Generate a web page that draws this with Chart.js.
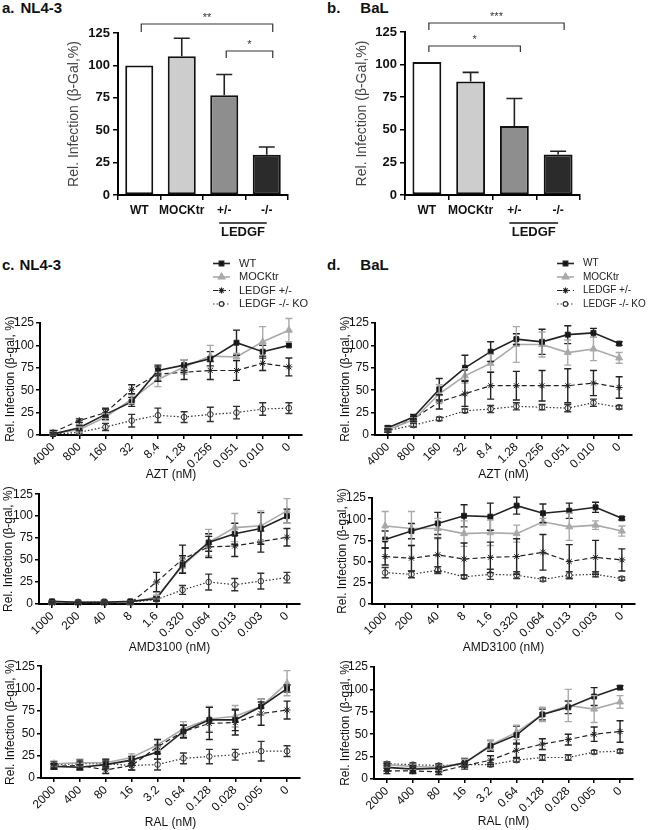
<!DOCTYPE html>
<html>
<head>
<meta charset="utf-8">
<script src="https://cdn.jsdelivr.net/npm/chart.js@4.4.1/dist/chart.umd.min.js"></script>
<style>
  body { margin: 0; background: #fff; width: 650px; height: 830px; position: relative; overflow: hidden;
         font-family: "Liberation Sans", Arial, sans-serif; }
  canvas { position: absolute; }
  .lbl { position: absolute; font-weight: bold; font-size: 15px; color: #111; white-space: nowrap; }
</style>
</head>
<body>
<div class="lbl" style="left:2px;top:-1px">a.<span style="margin-left:6px">NL4-3</span></div>
<div class="lbl" style="left:327px;top:-1px">b.<span style="margin-left:20px">BaL</span></div>
<div class="lbl" style="left:2px;top:256px">c.<span style="margin-left:5px">NL4-3</span></div>
<div class="lbl" style="left:327px;top:256px">d.<span style="margin-left:20px">BaL</span></div>

<canvas id="barNl" width="325" height="250" style="left:0;top:0"></canvas>
<canvas id="barBal" width="325" height="250" style="left:325px;top:0"></canvas>
<canvas id="nlAztC" width="325" height="235" style="left:0;top:250px"></canvas>
<canvas id="nlAmdC" width="325" height="172" style="left:0;top:485px"></canvas>
<canvas id="nlRalC" width="325" height="173" style="left:0;top:657px"></canvas>
<canvas id="balAztC" width="325" height="235" style="left:325px;top:250px"></canvas>
<canvas id="balAmdC" width="325" height="172" style="left:325px;top:485px"></canvas>
<canvas id="balRalC" width="325" height="173" style="left:325px;top:657px"></canvas>

<script>
// ---- data ----
const barGroups = ['WT', 'MOCKtr', '+/-', '-/-'];
const nlBar = [100, 107, 77, 31];
const nlBarSd = [0, 14, 16, 6];
const balBar = [102, 87, 53, 31];
const balBarSd = [0, 7, 21, 2.5];

const seriesNames = ['WT', 'MOCKtr', 'LEDGF +/-', 'LEDGF -/- KO'];
const aztDoses = ['4000', '800', '160', '32', '8.4', '1.28', '0.256', '0.051', '0.010', '0'];
const amdDoses = ['1000', '200', '40', '8', '1.6', '0.320', '0.064', '0.013', '0.003', '0'];
const ralDoses = ['2000', '400', '80', '16', '3.2', '0.64', '0.128', '0.028', '0.005', '0'];

// order of rows: WT, MOCKtr, LEDGF +/-, LEDGF -/- KO
const nlAzt = [
  [1, 8, 23, 37, 72, 78, 85, 103, 93, 100],
  [2, 6, 20, 40, 62, 76, 88, 87, 104, 117],
  [3, 16, 25, 51, 68, 70, 72, 72, 80, 76],
  [1, 3, 9, 16, 22, 20, 23, 25, 29, 30]
];
const nlAztSd = [
  [2, 3, 6, 5, 6, 6, 8, 14, 7, 0],
  [2, 3, 4, 5, 8, 8, 12, 4, 17, 13],
  [2, 2, 5, 5, 8, 8, 10, 11, 8, 10],
  [1, 2, 4, 7, 8, 6, 8, 7, 7, 6]
];
const nlAmd = [
  [3, 2, 2, 3, 6, 45, 70, 80, 86, 100],
  [2, 2, 2, 2, 8, 43, 70, 87, 89, 106],
  [1, 1, 1, 1, 25, 51, 65, 66, 71, 76],
  [2, 2, 3, 2, 5, 16, 25, 22, 26, 30]
];
const nlAmdSd = [
  [1, 1, 1, 1, 2, 10, 10, 12, 18, 8],
  [1, 1, 1, 1, 2, 8, 15, 16, 17, 14],
  [1, 1, 1, 1, 11, 16, 12, 12, 12, 10],
  [1, 1, 1, 1, 2, 5, 9, 7, 9, 6]
];
const nlRal = [
  [13, 12, 15, 20, 29, 52, 65, 65, 80, 100],
  [16, 17, 17, 23, 37, 55, 66, 69, 80, 106],
  [13, 14, 9, 14, 35, 52, 61, 62, 72, 76],
  [15, 16, 16, 14, 15, 22, 24, 26, 30, 30]
];
const nlRalSd = [
  [3, 3, 4, 4, 8, 7, 14, 12, 8, 4],
  [3, 4, 4, 4, 6, 8, 14, 12, 8, 14],
  [3, 4, 4, 5, 8, 7, 18, 14, 13, 10],
  [3, 4, 5, 5, 6, 6, 8, 6, 11, 6]
];
const balAzt = [
  [8, 20, 51, 75, 93, 107, 104, 112, 114, 102],
  [6, 17, 46, 66, 80, 101, 101, 92, 96, 86],
  [5, 18, 37, 46, 55, 55, 55, 55, 58, 53],
  [5, 11, 18, 27, 29, 32, 31, 30, 36, 31]
];
const balAztSd = [
  [2, 3, 12, 14, 11, 6, 14, 10, 5, 2],
  [2, 3, 10, 8, 10, 20, 14, 14, 13, 6],
  [2, 3, 8, 14, 15, 16, 17, 19, 14, 12],
  [2, 2, 2, 2, 4, 4, 3, 4, 4, 2]
];
const balAmd = [
  [76, 86, 95, 104, 103, 116, 107, 110, 114, 101],
  [92, 89, 89, 83, 84, 83, 97, 91, 93, 86],
  [56, 54, 58, 53, 55, 56, 61, 50, 55, 52],
  [37, 35, 40, 32, 35, 34, 29, 34, 35, 30]
];
const balAmdSd = [
  [10, 9, 13, 13, 16, 10, 11, 9, 6, 2],
  [17, 20, 12, 15, 15, 10, 4, 16, 5, 6],
  [10, 15, 20, 19, 18, 21, 21, 20, 20, 13],
  [6, 4, 4, 2, 6, 4, 2, 4, 3, 2]
];
const balRal = [
  [13, 11, 12, 18, 37, 49, 72, 80, 92, 102],
  [16, 14, 13, 18, 38, 52, 72, 82, 78, 86],
  [9, 9, 8, 15, 21, 32, 39, 44, 50, 53],
  [17, 16, 15, 16, 16, 21, 24, 24, 30, 31]
];
const balRalSd = [
  [4, 4, 4, 5, 6, 10, 6, 7, 10, 2],
  [3, 3, 3, 4, 5, 8, 8, 18, 15, 7],
  [3, 3, 3, 4, 5, 8, 6, 6, 8, 12],
  [2, 2, 2, 2, 2, 2, 3, 3, 2, 2]
];

// ---- styles ----
const FONT = '"Liberation Sans", Arial, Helvetica, sans-serif';
Chart.defaults.font.family = FONT;
Chart.defaults.color = '#111';

const seriesStyle = [
  {color: '#222', width: 1.6, dash: [], point: 'rect', radius: 3.5, fill: '#111'},
  {color: '#a9a9a9', width: 1.6, dash: [], point: 'triangle', radius: 4, fill: '#a9a9a9'},
  {color: '#222', width: 1.2, dash: [5, 3], point: 'star', radius: 3.5, fill: '#222'},
  {color: '#333', width: 1.2, dash: [1.5, 2], point: 'circle', radius: 2.8, fill: '#fff'}
];
const barColors = ['#ffffff', '#cdcdcd', '#8e8e8e', '#2b2b2b'];

// error bars read from dataset.sd, placed through the y scale
const errorBars = {
  id: 'errorBars',
  afterDatasetsDraw(chart) {
    const ctx = chart.ctx, y = chart.scales.y;
    chart.data.datasets.forEach((ds, i) => {
      if (!ds.sd) return;
      const meta = chart.getDatasetMeta(i);
      ctx.save();
      ctx.strokeStyle = ds.errColor || '#111';
      ctx.lineWidth = ds.errWidth || 1.4;
      ctx.setLineDash([]);
      meta.data.forEach((el, j) => {
        const s = ds.sd[j];
        if (!s) return;
        const v = ds.data[j];
        const top = y.getPixelForValue(v + s);
        const bot = ds.upOnly ? y.getPixelForValue(v) : y.getPixelForValue(Math.max(v - s, 0));
        const x = el.x, cw = ds.capWidth || 3.5;
        ctx.beginPath();
        ctx.moveTo(x, top); ctx.lineTo(x, bot);
        ctx.moveTo(x - cw, top); ctx.lineTo(x + cw, top);
        if (!ds.upOnly) { ctx.moveTo(x - cw, bot); ctx.lineTo(x + cw, bot); }
        ctx.stroke();
      });
      ctx.restore();
    });
  }
};

// legend with line + marker, drawn at a fixed spot of the canvas
const seriesKey = {
  id: 'seriesKey',
  afterDraw(chart, args, opts) {
    if (!opts || !opts.show) return;
    const ctx = chart.ctx;
    chart.data.datasets.forEach((ds, i) => {
      const st = seriesStyle[i];
      const y = opts.y + i * opts.dy, x = opts.x;
      ctx.save();
      ctx.strokeStyle = st.color; ctx.lineWidth = st.width; ctx.setLineDash(st.dash);
      ctx.beginPath(); ctx.moveTo(x, y); ctx.lineTo(x + 17, y); ctx.stroke();
      ctx.setLineDash([]);
      ctx.fillStyle = st.fill; ctx.strokeStyle = st.color;
      Chart.helpers.drawPoint(ctx, {pointStyle: st.point, radius: st.radius - 0.5, rotation: 0, borderWidth: 1}, x + 8.5, y);
      ctx.fillStyle = '#222';
      ctx.font = opts.size + 'px ' + FONT;
      ctx.textBaseline = 'middle';
      ctx.fillText(ds.label, x + 26, y);
      ctx.restore();
    });
  }
};

// significance brackets and LEDGF group label for the bar panels
const sigBrackets = {
  id: 'sigBrackets',
  afterDraw(chart, args, opts) {
    const ctx = chart.ctx, meta = chart.getDatasetMeta(0);
    ctx.save();
    ctx.strokeStyle = '#333'; ctx.lineWidth = 1.2; ctx.fillStyle = '#333';
    ctx.textAlign = 'center'; ctx.textBaseline = 'bottom';
    ctx.font = '11px ' + FONT;
    opts.brackets.forEach(b => {
      const x1 = meta.data[b.from].x + 2, x2 = meta.data[b.to].x + 6;
      ctx.beginPath();
      ctx.moveTo(x1, b.y + b.drop); ctx.lineTo(x1, b.y); ctx.lineTo(x2, b.y); ctx.lineTo(x2, b.y + b.drop);
      ctx.stroke();
      ctx.fillText(b.text, (x1 + x2) / 2, b.y - 1);
    });
    const xa = meta.data[2].x - 5, xb = meta.data[3].x;
    ctx.strokeStyle = '#111'; ctx.lineWidth = 1.3;
    ctx.beginPath(); ctx.moveTo(xa, opts.groupY); ctx.lineTo(xb, opts.groupY); ctx.stroke();
    ctx.fillStyle = '#111';
    ctx.font = 'bold 13px ' + FONT;
    ctx.textBaseline = 'top';
    ctx.fillText('LEDGF', (xa + xb) / 2, opts.groupY + 3);
    ctx.restore();
  }
};

const axisLine = {color: '#000', width: 2};
const axisGrid = {drawOnChartArea: false, color: '#000', tickLength: 5, lineWidth: 1.5};

function barChart(id, values, sds, box, brackets) {
  return new Chart(document.getElementById(id), {
    type: 'bar',
    data: {
      labels: barGroups,
      datasets: [{
        data: values, sd: sds, upOnly: true, capWidth: 8, errWidth: 1.6, errColor: '#222',
        backgroundColor: barColors, borderColor: '#111', borderWidth: 2, borderSkipped: false,
        barPercentage: 0.66, categoryPercentage: 1
      }]
    },
    plugins: [errorBars, sigBrackets],
    options: {
      responsive: false, animation: false,
      layout: {padding: {left: 0, top: box.top, right: box.right, bottom: 0}},
      plugins: {legend: {display: false}, tooltip: {enabled: false},
                sigBrackets: {brackets: brackets, groupY: 223}},
      scales: {
        x: {afterFit: s => { s.height = box.xh; }, border: axisLine, grid: axisGrid,
            ticks: {autoSkip: false, minRotation: 0, maxRotation: 0,
                    font: {size: 12, weight: 'bold'}, padding: 3, color: '#111'}},
        y: {min: 0, max: 125, afterFit: s => { s.width = box.left; }, border: axisLine, grid: axisGrid,
            ticks: {stepSize: 25, font: {size: 13, weight: 'bold'}, padding: 3, color: '#111'},
            title: {display: true, text: 'Rel. Infection (β-Gal,%)', color: '#444', font: {size: 14},
                    padding: {top: box.yt, bottom: 0}}}
      }
    }
  });
}

function lineChart(id, doses, means, sds, box, axisTitle, key) {
  const datasets = means.map((m, i) => {
    const st = seriesStyle[i];
    return {
      label: seriesNames[i], data: m, sd: sds[i], errColor: st.color,
      borderColor: st.color, borderWidth: st.width, borderDash: st.dash,
      pointStyle: st.point, pointRadius: st.radius, pointBorderWidth: 1,
      pointBackgroundColor: st.fill, pointBorderColor: st.color,
      clip: false, tension: 0, fill: false
    };
  });
  return new Chart(document.getElementById(id), {
    type: 'line',
    data: {labels: doses, datasets: datasets},
    plugins: [errorBars, seriesKey],
    options: {
      responsive: false, animation: false,
      layout: {padding: {left: 0, top: box.top, right: box.right, bottom: 0}},
      plugins: {legend: {display: false}, tooltip: {enabled: false},
                seriesKey: key || {show: false}},
      scales: {
        x: {offset: true, afterFit: s => { s.height = box.xh; },
            border: axisLine, grid: {...axisGrid, tickLength: 4},
            ticks: {autoSkip: false, minRotation: 45, maxRotation: 45, font: {size: 12}, padding: 1, color: '#111'},
            title: {display: true, text: axisTitle, font: {size: 12}, color: '#111',
                    padding: {top: 0, bottom: box.xt}}},
        y: {min: 0, max: 125, afterFit: s => { s.width = box.left; },
            border: axisLine, grid: {...axisGrid, tickLength: 4},
            ticks: {stepSize: 25, font: {size: 12}, padding: 2, color: '#111'},
            title: {display: true, text: 'Rel. Infection (β-gal, %)', font: {size: 12}, color: '#111',
                    padding: {top: box.yt, bottom: 0}}}
      }
    }
  });
}

barChart('barNl', nlBar, nlBarSd, {left: 118, top: 33, right: 37, xh: 55, yt: 66}, [
  {from: 0, to: 3, y: 24, drop: 8, text: '**'},
  {from: 2, to: 3, y: 51, drop: 7, text: '*'}
]);
barChart('barBal', balBar, balBarSd, {left: 80, top: 32, right: 70, xh: 55, yt: 29}, [
  {from: 0, to: 3, y: 23, drop: 7, text: '***'},
  {from: 0, to: 2, y: 46, drop: 6, text: '*'}
]);

lineChart('nlAztC', aztDoses, nlAzt, nlAztSd, {left: 40, top: 73, right: 23, xh: 50, yt: 3, xt: 3}, 'AZT (nM)',
  {show: true, x: 213, y: 13.5, dy: 13.5, size: 11});
lineChart('nlAmdC', amdDoses, nlAmd, nlAmdSd, {left: 39, top: 8, right: 25, xh: 53, yt: 1, xt: 2}, 'AMD3100 (nM)');
lineChart('nlRalC', ralDoses, nlRal, nlRalSd, {left: 41, top: 9, right: 25, xh: 52, yt: 3, xt: 0}, 'RAL (nM)');
lineChart('balAztC', aztDoses, balAzt, balAztSd, {left: 50, top: 73, right: 18, xh: 50, yt: 13, xt: 3}, 'AZT (nM)',
  {show: true, x: 232, y: 13.5, dy: 13.5, size: 10});
lineChart('balAmdC', amdDoses, balAmd, balAmdSd, {left: 47, top: 13, right: 15, xh: 53, yt: 10, xt: 2}, 'AMD3100 (nM)');
lineChart('balRalC', ralDoses, balRal, balRalSd, {left: 49, top: 10, right: 17, xh: 51, yt: 13, xt: 1}, 'RAL (nM)');
</script>
</body>
</html>
